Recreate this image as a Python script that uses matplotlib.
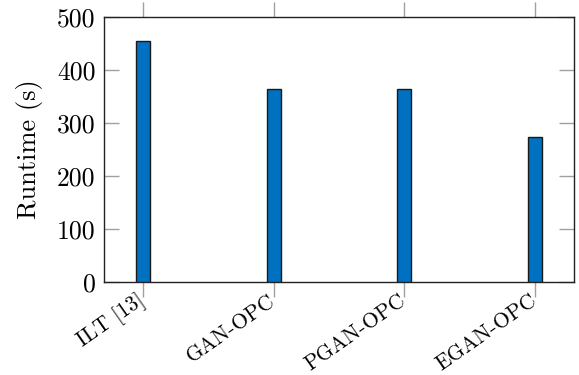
import numpy as np
import matplotlib.pyplot as plt

# runtime of each OPC method, seconds
methods = ['ILT [13]', 'GAN-OPC', 'PGAN-OPC', 'EGAN-OPC']
runtime = [455, 364, 364, 273]
y_ticks = [0, 100, 200, 300, 400, 500]

plt.rcParams['font.family'] = 'cmr10'
plt.rcParams['axes.formatter.use_mathtext'] = True
plt.rcParams['mathtext.fontset'] = 'cm'

fig = plt.figure(figsize=(5.79, 3.75), dpi=100)
ax = fig.add_axes([104 / 579, 93 / 375, 470 / 579, 265 / 375])

x = np.arange(len(methods))
ax.bar(x, runtime, width=0.105, color='#0070c0', edgecolor='#1a1a1a',
       linewidth=1.0, zorder=3)

ax.set_xlim(-0.3, len(methods) - 1 + 0.3)
ax.set_ylim(0, 500)

ax.set_xticks(x)
ax.set_xticklabels(methods, rotation=35, ha='right', va='center',
                   rotation_mode='anchor', fontsize=15.5)
ax.set_yticks(y_ticks)
ax.set_yticklabels([str(v) for v in y_ticks], fontsize=18.5)

ax.tick_params(axis='x', direction='out', top=True, length=11, width=1,
               color='#a0a0a0', pad=1)
ax.tick_params(axis='y', direction='in', right=True, length=11, width=1,
               color='#a0a0a0', pad=6)

for sp in ax.spines.values():
    sp.set_linewidth(1.0)
    sp.set_color('#222222')

ax.set_ylabel('Runtime (s)', fontsize=19, labelpad=10)

fig.savefig('out.png', dpi=100)
